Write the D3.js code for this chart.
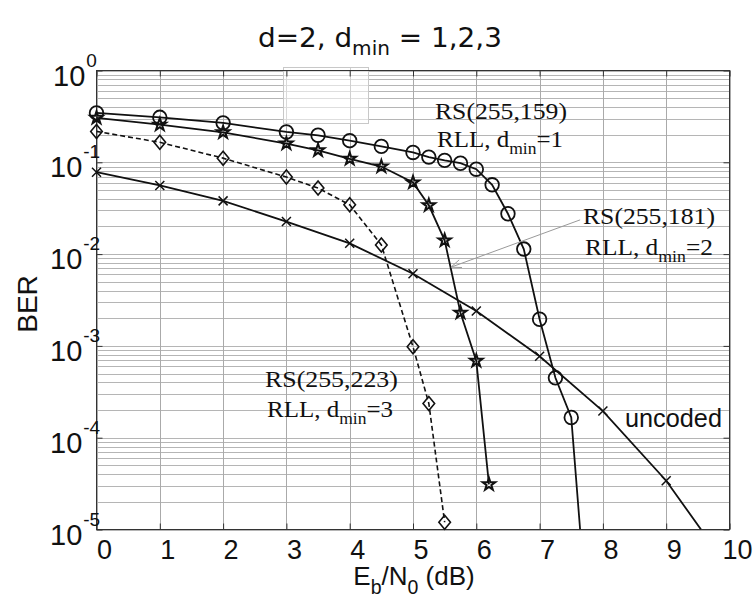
<!DOCTYPE html>
<html><head><meta charset="utf-8">
<script src="https://cdn.jsdelivr.net/npm/d3@7"></script>
<style>html,body{margin:0;padding:0;background:#fff;}svg{display:block;}</style>
</head><body>
<svg id="chart" width="754" height="603"></svg>
<script>
// ---------------- data ----------------
const xTicks = [0,1,2,3,4,5,6,7,8,9,10];
const yTickExps = [0,-1,-2,-3,-4,-5];

// uncoded (x markers)
const uncodedX   = [0,1,2,3,4,5,6,7,8,9];
const uncodedBER = [0.078,0.056,0.038,0.0226,0.0131,0.0061,0.0024,0.00077,0.000195,0.000034];
const uncodedTail = [9.55, 1.0e-5];

// RS(255,159), d_min = 1 (circles)
const rs159X   = [0,1,2,3,3.5,4,4.5,5,5.25,5.5,5.75,6,6.25,6.5,6.75,7,7.25,7.5];
const rs159BER = [0.345,0.309,0.269,0.214,0.197,0.172,0.149,0.128,0.114,0.105,0.0977,0.0841,0.0569,0.0275,0.01135,0.00195,0.000449,0.000166];
const rs159Tail = [7.64, 1.0e-5];

// RS(255,181), d_min = 2 (stars)
const rs181X   = [0,1,2,3,3.5,4,4.5,5,5.25,5.5,5.75,6,6.2];
const rs181BER = [0.305,0.257,0.212,0.160,0.135,0.109,0.090,0.0603,0.034,0.0141,0.0023,0.000687,0.000031];

// RS(255,223), d_min = 3 (diamonds, dashed)
const rs223X   = [0,1,2,3,3.5,4,4.5,5,5.25,5.5];
const rs223BER = [0.217,0.165,0.111,0.069,0.0524,0.0344,0.0126,0.000977,0.000236,0.000012];

// annotation texts
const titleParts = [{t:"d=2, d"},{t:"min",sub:true},{t:" = 1,2,3"}];
const labelRS159 = ["RS(255,159)", "1"];
const labelRS181 = ["RS(255,181)", "2"];
const labelRS223 = ["RS(255,223)", "3"];
const labelUncoded = "uncoded";

// ---------------- layout ----------------
const svg = d3.select("#chart");
const L = 96.5, R = 729.5, T = 70.5, B = 529.5;
const x = d3.scaleLinear().domain([0,10]).range([L,R]);
const y = d3.scaleLog().domain([1e-5,1]).range([B,T]);

svg.append("defs").append("clipPath").attr("id","clip")
  .append("rect").attr("x",L).attr("y",T).attr("width",R-L).attr("height",B-T);

// grid
const grid = svg.append("g");
const minorVals = [];
for (let k=-5;k<=-1;k++) for (let m=1;m<=9;m++) minorVals.push(m*Math.pow(10,k));
minorVals.push(1);
grid.selectAll("line.h").data(minorVals).join("line")
  .attr("x1",L).attr("x2",R)
  .attr("y1",d=>Math.round(y(d))+0.5).attr("y2",d=>Math.round(y(d))+0.5)
  .attr("stroke","#b5b5b5").attr("stroke-width",1);
grid.selectAll("line.v").data(xTicks).join("line")
  .attr("y1",T).attr("y2",B)
  .attr("x1",d=>Math.round(x(d))+0.5).attr("x2",d=>Math.round(x(d))+0.5)
  .attr("stroke","#aaaaaa").attr("stroke-width",1);

// faint artifact box near top
svg.append("rect").attr("x",283.5).attr("y",67.5).attr("width",85).attr("height",56)
  .attr("fill","#fff").attr("fill-opacity",0.55).attr("stroke","#c8c8c8").attr("stroke-width",1);
svg.append("line").attr("x1",350.5).attr("x2",350.5).attr("y1",68).attr("y2",123)
  .attr("stroke","#d0d0d0");

// frame
svg.append("rect").attr("x",L).attr("y",T).attr("width",R-L).attr("height",B-T)
  .attr("fill","none").attr("stroke","#333").attr("stroke-width",1);

// axis ticks (inward) using d3 axes
const axB = svg.append("g").attr("transform",`translate(0,${B})`)
  .call(d3.axisBottom(x).tickValues(xTicks).tickSize(-6).tickFormat(""));
const axT = svg.append("g").attr("transform",`translate(0,${T})`)
  .call(d3.axisTop(x).tickValues(xTicks).tickSize(-6).tickFormat(""));
const yMajor = yTickExps.map(e=>Math.pow(10,e));
const axL = svg.append("g").attr("transform",`translate(${L},0)`)
  .call(d3.axisLeft(y).tickValues(yMajor).tickSize(-6).tickFormat(""));
const axR = svg.append("g").attr("transform",`translate(${R},0)`)
  .call(d3.axisRight(y).tickValues(yMajor).tickSize(-6).tickFormat(""));
[axB,axT,axL,axR].forEach(a=>{a.select(".domain").remove(); a.selectAll("line").attr("stroke","#333");});

// tick labels
const tickFont = "'Liberation Sans', Arial, sans-serif";
svg.append("g").selectAll("text").data(xTicks).join("text")
  .attr("x",d=>x(d)+8).attr("y",B+29)
  .attr("text-anchor","middle").attr("font-family",tickFont).attr("font-size",27)
  .attr("fill","#111").text(d=>d);
const yl = svg.append("g");
yTickExps.forEach(e=>{
  const yy = y(Math.pow(10,e));
  const t = yl.append("text").attr("x",e===0 ? 53 : 50).attr("y",yy+15)
    .attr("font-family",tickFont).attr("font-size",29).attr("fill","#111");
  t.append("tspan").text("10");
  t.append("tspan").attr("dx", 1).attr("dy",-19).attr("font-size",19)
    .text(e===0 ? "0" : String(e));
});

// axis titles
function rich(parent, parts, size, family, opts={}) {
  const t = parent.append("text").attr("font-family",family).attr("font-size",size).attr("fill",opts.fill||"#111");
  let shift = 0;
  parts.forEach(p=>{
    const target = p.sub ? size*(opts.subShift||0.3) : 0;
    const ts = t.append("tspan").text(p.t).attr("dy", target-shift);
    if (p.sub) ts.attr("font-size", size*(opts.subScale||0.7));
    shift = target;
  });
  return t;
}
function placeFit(parts, size, family, left, baseline, width, opts) {
  const g = svg.append("g");
  const t = rich(g, parts, size, family, opts);
  const w = t.node().getBBox().width;
  const sx = width ? width/w : 1;
  g.attr("transform",`translate(${left},${baseline}) scale(${sx},1)`);
  return g;
}

// title
placeFit(titleParts, 27, "'DejaVu Sans', Verdana, sans-serif", 258, 47, 244, {subShift:0.28, subScale:0.72});

// x label
(function(){
  const g = svg.append("g");
  const t = rich(g, [{t:"E"},{t:"b",sub:true},{t:"/N"},{t:"0",sub:true},{t:" (dB)"}], 26, tickFont, {subShift:0.35, subScale:0.75});
  const w = t.node().getBBox().width;
  g.attr("transform",`translate(${414 - w/2},585)`);
})();
// y label
svg.append("text").attr("transform","translate(37,304) rotate(-90)")
  .attr("text-anchor","middle").attr("font-family",tickFont).attr("font-size",28)
  .attr("fill","#111").text("BER");

// ---------------- curves ----------------
const plot = svg.append("g").attr("clip-path","url(#clip)");
const line = d3.line().x(d=>x(d[0])).y(d=>y(d[1]));
function series(xs, ys, tail) {
  const pts = xs.map((v,i)=>[v, ys[i]]);
  return {pts, linePts: tail ? pts.concat([tail]) : pts};
}
const sUn = series(uncodedX, uncodedBER, uncodedTail);
const s159 = series(rs159X, rs159BER, rs159Tail);
const s181 = series(rs181X, rs181BER, null);
const s223 = series(rs223X, rs223BER, null);

const lw = 1.8, col = "#111";
plot.append("path").attr("d",line(sUn.linePts)).attr("fill","none").attr("stroke",col).attr("stroke-width",lw);
plot.append("path").attr("d",line(s159.linePts)).attr("fill","none").attr("stroke",col).attr("stroke-width",lw);
plot.append("path").attr("d",line(s181.linePts)).attr("fill","none").attr("stroke",col).attr("stroke-width",lw);
plot.append("path").attr("d",line(s223.linePts)).attr("fill","none").attr("stroke",col).attr("stroke-width",1.6)
  .attr("stroke-dasharray","5,3");

// markers
const mk = svg.append("g");
mk.selectAll("path.x").data(sUn.pts).join("path")
  .attr("transform",d=>`translate(${x(d[0])},${y(d[1])})`)
  .attr("d","M-4.5,-4.5L4.5,4.5M-4.5,4.5L4.5,-4.5")
  .attr("stroke",col).attr("stroke-width",1.5).attr("fill","none");
mk.selectAll("circle.c").data(s159.pts).join("circle")
  .attr("cx",d=>x(d[0])).attr("cy",d=>y(d[1])).attr("r",6.8)
  .attr("fill","none").attr("stroke",col).attr("stroke-width",1.8);
const star = d3.symbol().type(d3.symbolStar).size(48);
mk.selectAll("path.s").data(s181.pts).join("path")
  .attr("transform",d=>`translate(${x(d[0])},${y(d[1])})`)
  .attr("d",star()).attr("fill","none").attr("stroke",col).attr("stroke-width",2);
mk.selectAll("path.d").data(s223.pts).join("path")
  .attr("transform",d=>`translate(${x(d[0])},${y(d[1])})`)
  .attr("d","M0,-7L5.8,0L0,7L-5.8,0Z").attr("fill","none")
  .attr("stroke",col).attr("stroke-width",1.6);

// ---------------- annotations ----------------
const serif = "'Liberation Serif', 'Times New Roman', serif";
function rsLabel(lbl, x1, b1, w1, x2, b2, w2) {
  placeFit([{t:lbl[0]}], 24, serif, x1, b1, w1);
  placeFit([{t:"RLL, d"},{t:"min",sub:true},{t:"="+lbl[1]}], 24, serif, x2, b2, w2, {subShift:0.3, subScale:0.7});
}
rsLabel(labelRS159, 435, 119, 132, 437, 147, 126);
rsLabel(labelRS181, 583, 224, 132, 585, 255, 128);
rsLabel(labelRS223, 265, 387, 133, 267, 417, 126);
placeFit([{t:labelUncoded}], 25, tickFont, 625, 427, 97);

// arrow to RS(255,181) curve
const arrowFrom = [7.64, 0.0236], arrowTo = [5.6, 0.0072];
const ax0 = x(arrowFrom[0]), ay0 = y(arrowFrom[1]), ax1 = x(arrowTo[0]), ay1 = y(arrowTo[1]);
svg.append("line").attr("x1",ax0).attr("y1",ay0).attr("x2",ax1).attr("y2",ay1)
  .attr("stroke","#9a9a9a").attr("stroke-width",1);
const ang = Math.atan2(ay1-ay0, ax1-ax0);
const hl = 11, ha = 0.38;
svg.append("path")
  .attr("d",`M${ax1-hl*Math.cos(ang-ha)},${ay1-hl*Math.sin(ang-ha)}L${ax1},${ay1}L${ax1-hl*Math.cos(ang+ha)},${ay1-hl*Math.sin(ang+ha)}`)
  .attr("fill","none").attr("stroke","#9a9a9a").attr("stroke-width",1);
</script>
</body></html>
